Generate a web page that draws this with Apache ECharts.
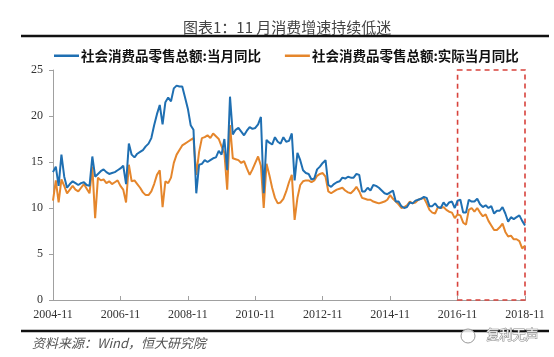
<!DOCTYPE html>
<html><head><meta charset="utf-8">
<script src="https://cdn.jsdelivr.net/npm/echarts@6/dist/echarts.min.js"></script>
<style>html,body{margin:0;padding:0;background:#fff}#c{width:554px;height:357px}</style>
</head><body><div id="c"></div>
<script>
// ---- text ----
const titleText = '图表1：11 月消费增速持续低迷';
const sourceText = '资料来源：Wind，恒大研究院';
const watermarkText = '复利无声';
const seriesNames = ['社会消费品零售总额:当月同比', '社会消费品零售总额:实际当月同比'];

// ---- categories: monthly 2004-11 .. 2018-11 ----
const startYear = 2004, startMonth = 11, monthCount = 169;
const categories = [];
for (let i = 0; i < monthCount; i++) {
  const t = startYear * 12 + (startMonth - 1) + i;
  const y = Math.floor(t / 12), m = t % 12 + 1;
  categories.push(y + '-' + (m < 10 ? '0' + m : m));
}
const highlightStart = '2016-11';
const highlightEnd = '2018-11';

// ---- y-axis ticks ----
const yMin = 0, yMax = 25, yStep = 5;

// ---- 社会消费品零售总额:当月同比 (%) ----
const nominalYoY = [
  13.9, 14.5,
  12.4, 15.8, 13.4, 12.2, 12.6, 12.9, 12.7, 12.5, 12.7, 12.8, 12.5, 12.4,
  15.6, 13.4, 13.7, 14.0, 14.2, 13.9, 13.7, 13.8, 13.9, 14.1, 14.3, 14.6,
  12.6, 17.0, 15.8, 15.5, 15.9, 16.1, 16.3, 16.7, 17.0, 17.6, 19.0, 20.2,
  21.2, 19.1, 21.5, 22.0, 21.6, 23.0, 23.3, 23.2, 23.2, 22.0, 20.8, 19.0,
  18.5, 11.6, 14.7, 14.8, 15.2, 15.0, 15.2, 15.4, 15.5, 16.2, 15.8, 17.5,
  14.1, 22.1, 18.0, 18.5, 18.7, 18.3, 17.9, 18.4, 18.8, 18.6, 18.7, 19.1,
  19.9, 11.6, 17.4, 17.1, 16.9, 17.7, 17.2, 17.0, 17.7, 17.2, 17.3, 18.1,
  13.0, 16.0, 15.2, 14.1, 13.8, 13.7, 13.1, 13.2, 14.2, 14.5, 14.9, 15.2,
  12.5, 12.3, 12.6, 12.8, 12.9, 13.3, 13.2, 13.4, 13.3, 13.3, 13.7, 13.6,
  11.8, 11.8, 12.2, 11.9, 12.5, 12.4, 12.2, 11.9, 11.6, 11.5, 11.7, 11.9,
  10.7, 10.7, 10.2, 10.0, 10.1, 10.6, 10.5, 10.8, 10.9, 11.0, 11.2, 11.1,
  10.2, 10.2, 10.5, 10.1, 10.0, 10.6, 10.2, 10.6, 10.7, 10.0, 10.8, 10.9,
  9.5, 9.5, 10.9, 10.7, 10.7, 11.0, 10.4, 10.1, 10.3, 10.0, 10.2, 9.4,
  9.7, 9.7, 10.1, 9.4, 8.5, 9.0, 8.8, 9.0, 9.2, 8.6, 8.1
];

// ---- 社会消费品零售总额:实际当月同比 (%) ----
const realYoY = [
  10.8, 13.0,
  10.6, 13.1, 12.4, 11.6, 12.0, 12.4, 12.0, 11.8, 12.2, 12.6, 12.1, 11.6,
  14.5, 8.9, 13.3, 13.0, 13.1, 12.7, 12.9, 12.6, 12.8, 13.0, 12.4, 12.0,
  10.6, 14.7, 12.9, 13.0, 12.6, 12.2, 11.7, 11.4, 11.4, 11.8, 12.6, 13.6,
  14.1, 10.1, 12.9, 12.7, 13.3, 14.9, 15.8, 16.3, 16.8, 17.0, 17.2, 17.4,
  17.6, 13.6, 16.1, 17.6, 17.7, 17.9, 17.6, 18.1, 17.8, 17.5, 16.7, 16.0,
  12.0, 19.0, 15.4, 15.3, 15.2, 14.9, 15.1, 14.3, 13.6, 14.2, 14.9, 15.6,
  14.6, 10.0, 14.8, 13.6, 12.2, 11.1, 10.5, 10.6, 11.0, 11.8, 12.8, 13.6,
  8.7, 11.1, 12.5, 12.9, 13.0, 13.0, 12.8, 13.0, 13.5, 13.7, 13.8, 13.4,
  11.8, 11.6, 11.8, 12.0, 12.1, 12.2, 11.9, 11.7, 11.6, 11.9, 12.3, 11.8,
  11.1, 11.0, 10.9, 10.9, 10.7, 10.6, 10.5, 10.6, 10.7, 10.9, 11.4, 11.0,
  10.7, 10.4, 10.0, 10.1, 10.3, 10.7, 10.5, 10.6, 10.9, 11.0, 11.1, 10.5,
  9.8, 9.5, 9.4, 10.1, 10.0, 10.1, 9.8, 9.6, 9.5, 8.9, 9.3, 9.2,
  8.4, 8.2, 9.8, 10.0, 9.6, 10.0, 9.5, 9.1, 9.3, 8.6, 8.1, 7.6,
  7.6, 7.9, 8.3, 7.4, 6.9, 7.0, 6.6, 6.6, 6.4, 5.6, 5.9
];

const colors = ['#1f6fb2', '#e5862c'];
const serif = '"Liberation Serif", "Times New Roman", serif';
const cjk = '"Noto Sans CJK SC", sans-serif';

const chart = echarts.init(document.getElementById('c'), null, {renderer: 'canvas'});
chart.setOption({
  animation: false,
  backgroundColor: '#fff',
  title: {
    text: titleText, left: 178, top: 15,
    textStyle: {fontSize: 15, fontWeight: 'normal', color: '#444', fontFamily: cjk}
  },
  legend: {
    data: seriesNames, left: 54, top: 49, padding: 0,
    icon: 'rect', itemWidth: 25, itemHeight: 2.5, itemGap: 24,
    textStyle: {fontSize: 13.5, fontWeight: 'bold', color: '#111', fontFamily: cjk, padding: [0, 0, 0, -3]}
  },
  grid: {left: 53, right: 29, top: 70, bottom: 57, containLabel: false},
  xAxis: {
    type: 'category', data: categories, boundaryGap: false,
    axisLine: {lineStyle: {color: '#a0a0a0', width: 1}},
    axisTick: {interval: 23, inside: true, length: 4, lineStyle: {color: '#a0a0a0'}},
    axisLabel: {interval: 23, color: '#333', fontFamily: serif, fontSize: 12, margin: 9}
  },
  yAxis: {
    type: 'value', min: yMin, max: yMax, interval: yStep,
    axisLine: {show: true, lineStyle: {color: '#a0a0a0', width: 1}},
    axisTick: {show: true, length: 4, lineStyle: {color: '#a0a0a0'}},
    splitLine: {show: false},
    axisLabel: {color: '#333', fontFamily: serif, fontSize: 12, margin: 10}
  },
  series: [
    {
      name: seriesNames[0], type: 'line', data: nominalYoY, showSymbol: false,
      lineStyle: {width: 2, color: colors[0]}, itemStyle: {color: colors[0]}, z: 3,
      markArea: {
        silent: true,
        label: {show: false},
        itemStyle: {color: 'rgba(0,0,0,0)', borderColor: '#d8433c', borderWidth: 1.6, borderType: [5, 4]},
        data: [[{xAxis: highlightStart, yAxis: yMax}, {xAxis: highlightEnd, yAxis: -0.35}]]
      }
    },
    {
      name: seriesNames[1], type: 'line', data: realYoY, showSymbol: false,
      lineStyle: {width: 2, color: colors[1]}, itemStyle: {color: colors[1]}, z: 2
    }
  ],
  graphic: [
    {type: 'line', shape: {x1: 21, y1: 36, x2: 549, y2: 36}, style: {stroke: '#111', lineWidth: 2.5}},
    {type: 'line', shape: {x1: 21, y1: 331, x2: 549, y2: 331}, style: {stroke: '#111', lineWidth: 2.5}},
    {type: 'text', left: 32, top: 337, style: {text: sourceText, fill: '#555', font: 'italic 13px ' + cjk}},
    {type: 'circle', shape: {cx: 468, cy: 336, r: 7}, style: {fill: 'rgba(255,255,255,0.85)', stroke: '#999', lineWidth: 1}},
    {type: 'text', left: 486, top: 327, style: {text: watermarkText, fill: '#f4f4f4', stroke: '#888', lineWidth: 1, font: '13px ' + cjk}}
  ]
});
</script>
</body></html>
